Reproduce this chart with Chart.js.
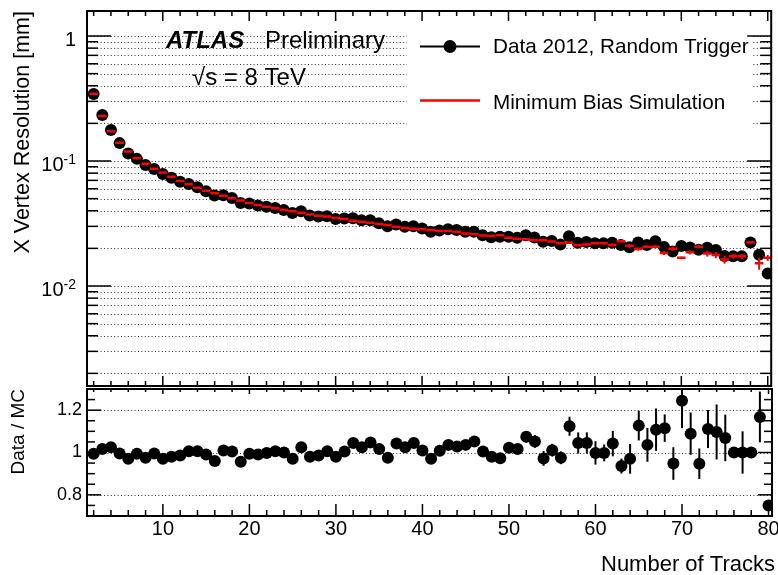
<!DOCTYPE html>
<html>
<head>
<meta charset="utf-8">
<script src="https://cdn.jsdelivr.net/npm/chart.js@4.4.0/dist/chart.umd.min.js"></script>
<style>
    html, body { margin: 0; padding: 0; background: #fff; }
    #wrap { position: relative; width: 778px; height: 575px; }
    #wrap canvas { position: absolute; left: 0; top: 0; }
</style>
</head>
<body>
<div id="wrap">
    <canvas id="lower" width="778" height="575"></canvas>
    <canvas id="upper" width="778" height="575"></canvas>
</div>
<script>
// Number of tracks (bin centres)
const tracks = [2, 3, 4, 5, 6, 7, 8, 9, 10, 11,
    12, 13, 14, 15, 16, 17, 18, 19, 20, 21,
    22, 23, 24, 25, 26, 27, 28, 29, 30, 31,
    32, 33, 34, 35, 36, 37, 38, 39, 40, 41,
    42, 43, 44, 45, 46, 47, 48, 49, 50, 51,
    52, 53, 54, 55, 56, 57, 58, 59, 60, 61,
    62, 63, 64, 65, 66, 67, 68, 69, 70, 71,
    72, 73, 74, 75, 76, 77, 78, 79, 80];

// Minimum bias simulation, x vertex resolution [mm]
const mcResolution = [0.345, 0.229, 0.173, 0.140, 0.119, 0.105, 0.0952, 0.0868, 0.0810, 0.0748,
    0.0692, 0.0651, 0.0612, 0.0579, 0.0551, 0.0528, 0.0503, 0.0482, 0.0461, 0.0445,
    0.0431, 0.0418, 0.0406, 0.0396, 0.0386, 0.0374, 0.0365, 0.0359, 0.0350, 0.0344,
    0.0333, 0.0327, 0.0321, 0.0313, 0.0308, 0.0298, 0.0291, 0.0287, 0.0285, 0.0280,
    0.0276, 0.0275, 0.0272, 0.0263, 0.0259, 0.0254, 0.0251, 0.0255, 0.0243, 0.0239,
    0.0237, 0.0232, 0.0232, 0.0227, 0.0220, 0.0222, 0.0212, 0.0215, 0.0220, 0.0220,
    0.0213, 0.0228, 0.0210, 0.0198, 0.0206, 0.0206, 0.0184, 0.0199, 0.0168, 0.0186,
    0.0206, 0.0182, 0.0177, 0.0163, 0.0173, 0.0173, 0.0223, 0.0152, 0.0168];

const mcError = [0, 0, 0, 0, 0, 0, 0, 0, 0, 0,
    0, 0, 0, 0, 0, 0, 0, 0, 0, 0,
    0, 0, 0, 0, 0, 0, 0, 0, 0, 0,
    0, 0, 0, 0, 0, 0, 0, 0, 0, 0,
    0, 0, 0, 0, 0, 0, 0, 0, 0, 0,
    0, 0, 0, 0.0003, 0.0003, 0.0003, 0.0004, 0.0005, 0.0005, 0.0005,
    0.0006, 0.0005, 0.0007, 0.0006, 0.0006, 0.0006, 0.0007, 0.0008, 0.0004, 0.0007,
    0.0006, 0.0010, 0.0010, 0.0012, 0.0008, 0.0008, 0.0004, 0.0017, 0.0009];

// Data 2012, random trigger, x vertex resolution [mm]
const dataResolution = [0.343, 0.233, 0.177, 0.139, 0.115, 0.104, 0.0928, 0.0864, 0.0786, 0.0733,
    0.0682, 0.0655, 0.0616, 0.0573, 0.0529, 0.0533, 0.0506, 0.0461, 0.0458, 0.0441,
    0.0430, 0.0421, 0.0406, 0.0384, 0.0396, 0.0367, 0.0360, 0.0361, 0.0343, 0.0346,
    0.0348, 0.0335, 0.0336, 0.0318, 0.0300, 0.0311, 0.0298, 0.0300, 0.0288, 0.0272,
    0.0278, 0.0285, 0.0280, 0.0272, 0.0272, 0.0255, 0.0246, 0.0248, 0.0248, 0.0243,
    0.0255, 0.0244, 0.0226, 0.0229, 0.0215, 0.0250, 0.0222, 0.0225, 0.0220, 0.0220,
    0.0222, 0.0213, 0.0204, 0.0223, 0.0213, 0.0228, 0.0205, 0.0189, 0.0209, 0.0203,
    0.0195, 0.0202, 0.0194, 0.0174, 0.0173, 0.0173, 0.0223, 0.0178, 0.0126];

// Data / MC ratio and its uncertainty
const ratio = [0.994, 1.017, 1.025, 0.995, 0.970, 0.994, 0.975, 0.995, 0.970, 0.980,
    0.986, 1.006, 1.006, 0.990, 0.960, 1.010, 1.005, 0.956, 0.994, 0.990,
    0.998, 1.006, 1.000, 0.970, 1.025, 0.980, 0.986, 1.006, 0.980, 1.005,
    1.045, 1.025, 1.047, 1.017, 0.975, 1.042, 1.025, 1.045, 1.010, 0.970,
    1.008, 1.036, 1.028, 1.036, 1.052, 1.005, 0.980, 0.973, 1.022, 1.017,
    1.074, 1.052, 0.972, 1.011, 0.975, 1.124, 1.045, 1.045, 0.998, 0.998,
    1.042, 0.936, 0.970, 1.127, 1.036, 1.108, 1.115, 0.948, 1.245, 1.089,
    0.947, 1.111, 1.097, 1.069, 1.000, 1.000, 1.000, 1.168, 0.750];

const ratioError = [0.004, 0.004, 0.004, 0.004, 0.004, 0.004, 0.004, 0.004, 0.004, 0.004,
    0.004, 0.004, 0.004, 0.004, 0.004, 0.004, 0.004, 0.004, 0.004, 0.006,
    0.006, 0.006, 0.006, 0.006, 0.006, 0.006, 0.006, 0.006, 0.006, 0.010,
    0.010, 0.010, 0.010, 0.010, 0.010, 0.010, 0.010, 0.010, 0.010, 0.015,
    0.015, 0.015, 0.015, 0.015, 0.025, 0.020, 0.020, 0.022, 0.020, 0.022,
    0.027, 0.030, 0.035, 0.030, 0.030, 0.045, 0.050, 0.050, 0.055, 0.040,
    0.060, 0.035, 0.070, 0.070, 0.080, 0.100, 0.065, 0.077, 0.130, 0.100,
    0.072, 0.090, 0.130, 0.110, 0.000, 0.100, 0.000, 0.120, 0.020];

// Axis ticks and labels
const xTickLabels = [10, 20, 30, 40, 50, 60, 70, 80];
const yDecadeLabels = [
    { value: 1, base: '1', exp: '' },
    { value: 0.1, base: '10', exp: '-1' },
    { value: 0.01, base: '10', exp: '-2' }
];
const ratioTickLabels = [0.8, 1, 1.2];

const FONT = '"Liberation Sans", Arial, Helvetica, sans-serif';

function hLine(ctx, x1, x2, y) {
    ctx.beginPath();
    ctx.moveTo(x1, y);
    ctx.lineTo(x2, y);
    ctx.stroke();
}

function vLine(ctx, x, y1, y2) {
    ctx.beginPath();
    ctx.moveTo(x, y1);
    ctx.lineTo(x, y2);
    ctx.stroke();
}

// x ticks every 2 tracks, long ones every 10
function drawXTicks(ctx, x, yEdge, dir, majorLen, minorLen) {
    for (let v = 2; v <= 80; v += 2) {
        const px = x.getPixelForValue(v);
        vLine(ctx, px, yEdge, yEdge + dir * (v % 10 === 0 ? majorLen : minorLen));
    }
}

function drawFrame(ctx, a) {
    ctx.setLineDash([]);
    ctx.strokeStyle = '#000';
    ctx.lineWidth = 2;
    ctx.strokeRect(a.left, a.top, a.right - a.left, a.bottom - a.top);
}

// all 1..9 x 10^k values inside the log axis
function logValues(y) {
    const vals = [];
    for (let e = -4; e <= 1; e++) {
        for (let m = 1; m <= 9; m++) {
            const v = Number((m * Math.pow(10, e)).toPrecision(3));
            if (v >= y.min && v <= y.max) vals.push({ v: v, major: m === 1 });
        }
    }
    return vals;
}

const upperDecor = {
    id: 'upperDecor',
    beforeDatasetsDraw(chart) {
        const { ctx, chartArea: a, scales: { y } } = chart;
        ctx.save();
        // dotted grid
        ctx.strokeStyle = '#333';
        ctx.lineWidth = 1;
        ctx.setLineDash([1, 2.4]);
        logValues(y).forEach(t => {
            const py = Math.round(y.getPixelForValue(t.v)) + 0.5;
            hLine(ctx, a.left, a.right, py);
        });
        // legend box
        ctx.fillStyle = '#fff';
        ctx.fillRect(407, a.top + 1, 346, 119);
        ctx.restore();
    },
    afterDatasetsDraw(chart) {
        const { ctx, chartArea: a, scales: { x, y } } = chart;
        ctx.save();

        // MC error bars
        ctx.strokeStyle = '#ff0000';
        ctx.lineWidth = 2;
        tracks.forEach((t, i) => {
            if (mcError[i] > 0) {
                const px = x.getPixelForValue(t);
                vLine(ctx, px, y.getPixelForValue(mcResolution[i] - mcError[i]), y.getPixelForValue(mcResolution[i] + mcError[i]));
            }
        });

        drawFrame(ctx, a);

        // y ticks both sides
        ctx.lineWidth = 1.5;
        logValues(y).forEach(t => {
            const py = y.getPixelForValue(t.v);
            const len = t.major ? 24 : 11;
            hLine(ctx, a.left, a.left + len, py);
            hLine(ctx, a.right, a.right - len, py);
        });
        drawXTicks(ctx, x, a.top, 1, 10, 5);
        drawXTicks(ctx, x, a.bottom, -1, 10, 5);

        // y tick labels
        ctx.fillStyle = '#000';
        ctx.textAlign = 'right';
        ctx.textBaseline = 'middle';
        yDecadeLabels.forEach(d => {
            const py = y.getPixelForValue(d.value) + 4;
            if (!d.exp) {
                ctx.font = '20px ' + FONT;
                ctx.fillText(d.base, 76, py);
            } else {
                ctx.font = '14px ' + FONT;
                const we = ctx.measureText(d.exp).width;
                ctx.fillText(d.exp, 76, py - 5);
                ctx.font = '20px ' + FONT;
                ctx.fillText(d.base, 76 - we, py);
            }
        });

        // y title
        ctx.save();
        ctx.translate(29, 11);
        ctx.rotate(-Math.PI / 2);
        ctx.textAlign = 'right';
        ctx.textBaseline = 'alphabetic';
        ctx.font = '21.5px ' + FONT;
        ctx.fillText('X Vertex Resolution [mm]', 0, 0);
        ctx.restore();

        // ATLAS label
        ctx.textAlign = 'left';
        ctx.textBaseline = 'alphabetic';
        ctx.font = 'italic bold 24px ' + FONT;
        ctx.fillText('ATLAS', 166, 48);
        ctx.font = '24px ' + FONT;
        ctx.fillText('Preliminary', 265, 48);
        ctx.fillText('\u221As = 8 TeV', 192, 85);

        // legend
        ctx.strokeStyle = '#000';
        ctx.lineWidth = 2;
        hLine(ctx, 420, 480, 46.5);
        ctx.beginPath();
        ctx.arc(450, 46.5, 6.5, 0, Math.PI * 2);
        ctx.fill();
        ctx.strokeStyle = '#ff0000';
        ctx.lineWidth = 2.5;
        hLine(ctx, 420, 480, 100.5);
        ctx.fillStyle = '#000';
        ctx.font = '20.7px ' + FONT;
        ctx.fillText('Data 2012, Random Trigger', 493, 53);
        ctx.fillText('Minimum Bias Simulation', 493, 109);

        ctx.restore();
    }
};

const lowerDecor = {
    id: 'lowerDecor',
    beforeDatasetsDraw(chart) {
        const { ctx, chartArea: a, scales: { x, y } } = chart;
        ctx.save();
        ctx.strokeStyle = '#333';
        ctx.lineWidth = 1;
        ctx.setLineDash([1, 2.4]);
        ratioTickLabels.forEach(v => {
            hLine(ctx, a.left, a.right, Math.round(y.getPixelForValue(v)) + 0.5);
        });
        ctx.setLineDash([]);

        // error bars, clipped to the pad
        ctx.beginPath();
        ctx.rect(a.left, a.top, a.right - a.left, a.bottom - a.top);
        ctx.clip();
        ctx.strokeStyle = '#000';
        ctx.lineWidth = 2;
        tracks.forEach((t, i) => {
            if (ratioError[i] > 0) {
                const px = x.getPixelForValue(t);
                vLine(ctx, px, y.getPixelForValue(ratio[i] - ratioError[i]), y.getPixelForValue(ratio[i] + ratioError[i]));
            }
        });
        ctx.restore();
    },
    afterDatasetsDraw(chart) {
        const { ctx, chartArea: a, scales: { x, y } } = chart;
        ctx.save();
        drawFrame(ctx, a);

        ctx.lineWidth = 1.5;
        for (let k = 14; k <= 26; k++) {
            const v = k * 0.05;
            const py = y.getPixelForValue(v);
            const len = (k % 4 === 0) ? 14 : 8;
            hLine(ctx, a.left, a.left + len, py);
            hLine(ctx, a.right, a.right - len, py);
        }
        drawXTicks(ctx, x, a.top, 1, 5, 3);
        drawXTicks(ctx, x, a.bottom, -1, 12, 6);

        ctx.fillStyle = '#000';
        ctx.textAlign = 'right';
        ctx.textBaseline = 'middle';
        ctx.font = '18px ' + FONT;
        ratioTickLabels.forEach(v => {
            ctx.fillText(String(v), 82, y.getPixelForValue(v));
        });

        ctx.textAlign = 'center';
        ctx.font = '20px ' + FONT;
        xTickLabels.forEach(v => {
            ctx.fillText(String(v), x.getPixelForValue(v), 529);
        });

        ctx.textAlign = 'right';
        ctx.font = '22px ' + FONT;
        ctx.fillText('Number of Tracks', 775, 565);

        ctx.save();
        ctx.translate(24, 389);
        ctx.rotate(-Math.PI / 2);
        ctx.textAlign = 'right';
        ctx.textBaseline = 'alphabetic';
        ctx.font = '19px ' + FONT;
        ctx.fillText('Data / MC', 0, 0);
        ctx.restore();

        ctx.restore();
    }
};

const xScale = { type: 'linear', min: 1.23, max: 80.4, display: false };

new Chart(document.getElementById('upper'), {
    type: 'scatter',
    data: {
        datasets: [
            {
                label: 'Minimum Bias Simulation',
                data: tracks.map((t, i) => ({ x: t, y: mcResolution[i] })),
                pointStyle: 'line',
                pointRadius: 4.3,
                borderColor: '#ff0000',
                backgroundColor: '#ff0000',
                borderWidth: 2.5
            },
            {
                label: 'Data 2012, Random Trigger',
                data: tracks.map((t, i) => ({ x: t, y: dataResolution[i] })),
                pointStyle: 'circle',
                pointRadius: 6,
                backgroundColor: '#000',
                borderColor: '#000',
                borderWidth: 0
            }
        ]
    },
    options: {
        responsive: false,
        animation: false,
        events: [],
        layout: { padding: { left: 87, top: 11, right: 5, bottom: 189 } },
        plugins: { legend: { display: false }, tooltip: { enabled: false } },
        scales: {
            x: xScale,
            y: { type: 'logarithmic', min: Math.pow(10, -2.8), max: Math.pow(10, 0.2), bounds: 'data', display: false }
        }
    },
    plugins: [upperDecor]
});

new Chart(document.getElementById('lower'), {
    type: 'scatter',
    data: {
        datasets: [{
            label: 'Data / MC',
            data: tracks.map((t, i) => ({ x: t, y: ratio[i] })),
            pointStyle: 'circle',
            pointRadius: 6,
            backgroundColor: '#000',
            borderColor: '#000',
            borderWidth: 0
        }]
    },
    options: {
        responsive: false,
        animation: false,
        events: [],
        layout: { padding: { left: 87, top: 389, right: 5, bottom: 59 } },
        plugins: { legend: { display: false }, tooltip: { enabled: false } },
        scales: {
            x: xScale,
            y: { type: 'linear', min: 0.7, max: 1.3, bounds: 'data', display: false }
        }
    },
    plugins: [lowerDecor]
});
</script>
</body>
</html>
